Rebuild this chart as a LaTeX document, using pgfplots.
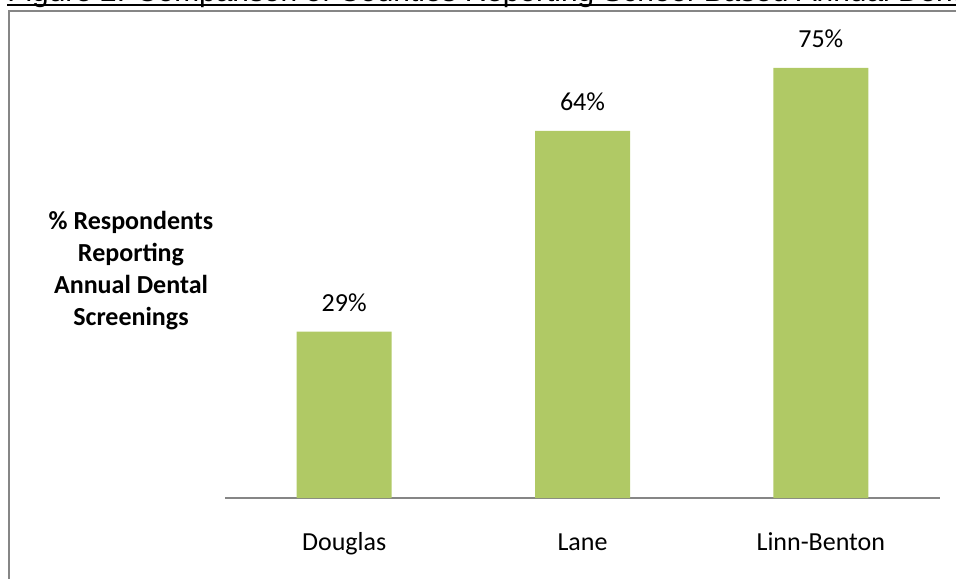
\documentclass[border=0pt]{standalone}
\usepackage{pgfplots}
\pgfplotsset{compat=1.18}
\usepackage{fontspec}
\setmainfont{Carlito}
\newfontfamily\arialfont{Liberation Sans}
\definecolor{bargreen}{RGB}{176,201,101}
\definecolor{framegray}{RGB}{134,134,134}
\begin{document}
\begin{tikzpicture}
\path[use as bounding box] (0,0) rectangle (717pt,-433.5pt);
\clip (0,0) rectangle (717pt,-433.5pt);
\node[anchor=base west, inner sep=0, font=\arialfont\fontsize{22.4}{26}\selectfont] at (5.25pt,-1.5pt) {Figure 2: Comparison of Counties Reporting School-Based Annual Dental Screenings};
\draw[line width=1.5pt] (5.25pt,-4.1pt) -- (720pt,-4.1pt);
\draw[framegray, line width=1.5pt] (7.1pt,-440pt) -- (7.1pt,-7.9pt) -- (720pt,-7.9pt);
\begin{axis}[
  at={(168.75pt,-373.5pt)}, anchor=south west,
  scale only axis, width=536.25pt, height=344.2pt,
  xmin=-0.5, xmax=2.5, ymin=0, ymax=80,
  axis x line=bottom, axis y line=none,
  x axis line style={framegray, line width=1.5pt, -},
  xtick={0,1,2}, xticklabels={Douglas,Lane,Linn-Benton},
  major tick length=0, ytick=\empty,
  xticklabel style={anchor=base, yshift=-39pt, font=\fontsize{19.5}{24}\selectfont},
  ybar, bar width=71.25pt, clip=false,
  /pgf/number format/assume math mode=true,
  nodes near coords={\pgfmathprintnumber{\pgfplotspointmeta}\%},
  point meta=y,
  nodes near coords style={anchor=base, yshift=15pt, font=\fontsize{19.5}{24}\selectfont, text=black},
]
\addplot[fill=bargreen, draw=none] coordinates {(0,29) (1,64) (2,75)};
\end{axis}
\node[align=center, font=\bfseries\fontsize{19.5}{24}\selectfont] at (98.25pt,-203.25pt) {\% Respondents\\Reporting\\Annual Dental\\Screenings};
\end{tikzpicture}
\end{document}
